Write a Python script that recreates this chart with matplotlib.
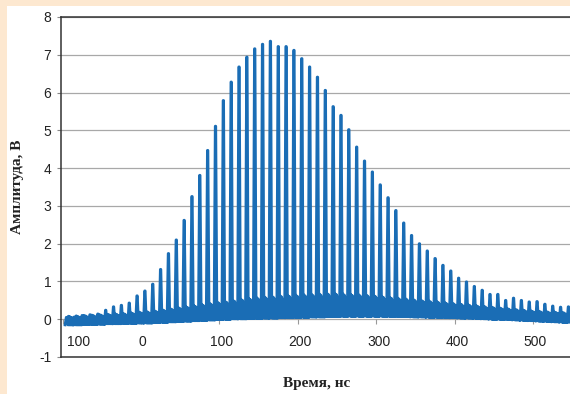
import numpy as np
import matplotlib
matplotlib.use("Agg")
import matplotlib.pyplot as plt
from matplotlib.patches import Rectangle

plt.rcParams['axes.unicode_minus'] = False

# pulse times (ns) and peak amplitudes (V)
pulse_t = [-95, -85, -75, -65, -55, -45, -35, -25, -15, -5,
           5, 15, 25, 35, 45, 55, 65, 75, 85, 95,
           105, 115, 125, 135, 145, 155, 165, 175, 185, 195,
           205, 215, 225, 235, 245, 255, 265, 275, 285, 295,
           305, 315, 325, 335, 345, 355, 365, 375, 385, 395,
           405, 415, 425, 435, 445, 455, 465, 475, 485, 495,
           505, 515, 525, 535, 545]
pulse_amp = [0.05, 0.06, 0.10, 0.12, 0.14, 0.24, 0.33, 0.37, 0.43, 0.62,
             0.75, 0.93, 1.32, 1.74, 2.10, 2.62, 3.25, 3.81, 4.47, 5.11,
             5.79, 6.28, 6.68, 6.94, 7.16, 7.28, 7.36, 7.22, 7.22, 7.12,
             6.90, 6.68, 6.41, 6.06, 5.63, 5.40, 5.02, 4.56, 4.19, 3.90,
             3.56, 3.22, 2.88, 2.55, 2.22, 2.00, 1.81, 1.61, 1.43, 1.28,
             1.09, 0.99, 0.87, 0.77, 0.66, 0.66, 0.50, 0.56, 0.50, 0.46,
             0.47, 0.40, 0.35, 0.32, 0.33]
# top / bottom of the dense ringing band between pulses
band_top = [0.08, 0.09, 0.10, 0.11, 0.12, 0.13, 0.14, 0.15, 0.17, 0.19,
            0.20, 0.22, 0.25, 0.28, 0.31, 0.33, 0.36, 0.39, 0.42, 0.45,
            0.47, 0.50, 0.53, 0.55, 0.57, 0.59, 0.60, 0.62, 0.63, 0.64,
            0.65, 0.66, 0.67, 0.68, 0.68, 0.67, 0.66, 0.65, 0.64, 0.62,
            0.60, 0.58, 0.56, 0.54, 0.52, 0.50, 0.48, 0.46, 0.44, 0.42,
            0.40, 0.38, 0.36, 0.34, 0.32, 0.30, 0.28, 0.26, 0.24, 0.22,
            0.21, 0.20, 0.19, 0.18, 0.17]
band_bot = [-0.15, -0.15, -0.14, -0.14, -0.13, -0.12, -0.12, -0.11, -0.11, -0.10,
            -0.10, -0.09, -0.08, -0.07, -0.06, -0.05, -0.04, -0.03, -0.02, -0.01,
            0.00, 0.01, 0.01, 0.02, 0.02, 0.03, 0.03, 0.04, 0.04, 0.05,
            0.05, 0.06, 0.06, 0.07, 0.07, 0.08, 0.08, 0.08, 0.08, 0.08,
            0.08, 0.07, 0.07, 0.07, 0.06, 0.06, 0.05, 0.05, 0.04, 0.04,
            0.03, 0.03, 0.02, 0.01, 0.00, 0.00, -0.01, -0.02, -0.03, -0.04,
            -0.05, -0.06, -0.07, -0.08, -0.08]

x_ticks = [-100, 0, 100, 200, 300, 400, 500]
x_labels = ['100', '0', '100', '200', '300', '400', '500']
y_ticks = [-1, 0, 1, 2, 3, 4, 5, 6, 7, 8]

blue = '#1a6db5'

# build the trace: sharp pulse followed by ringing inside the band
decay = [1.0, 0.8, 0.95, 0.65, 0.85, 0.6, 0.8, 0.55]
tx, ty = [], []
for t, a, hi, lo in zip(pulse_t, pulse_amp, band_top, band_bot):
    tx += [t - 1.8, t - 0.3, t + 0.3, t + 1.8]
    ty += [lo, a, a, lo]
    for j, d in enumerate(decay):
        tx += [t + 2.4 + j * 0.95, t + 2.9 + j * 0.95]
        ty += [lo + (hi - lo) * d, lo]

fig = plt.figure(figsize=(5.7, 3.94), dpi=100)
fig.patch.set_facecolor('#fde8d0')
fig.patches.append(Rectangle((7 / 570, 0), 1, 388 / 394, transform=fig.transFigure,
                             facecolor='white', edgecolor='none', zorder=-5))

ax = fig.add_axes([61 / 570, 37 / 394, 1 - 61 / 570, 340 / 394])
ax.set_zorder(2)
ax.set_facecolor('white')
ax.set_xlim(-102, 547)
ax.set_ylim(-1, 8)

ax.set_yticks(y_ticks)
ax.yaxis.grid(True, color='#a8a8a8', linewidth=0.9)
ax.set_axisbelow(True)
ax.tick_params(axis='y', length=3, width=0.8, color='#888888', labelsize=10,
               labelcolor='#222222', pad=4)
ax.set_xticks([])
for lab in ax.get_yticklabels():
    lab.set_fontfamily('Liberation Sans')

for s in ['left', 'top', 'bottom']:
    ax.spines[s].set_color('#333333')
    ax.spines[s].set_linewidth(1.1)
ax.spines['right'].set_visible(False)

ax.plot(tx, ty, color=blue, linewidth=2.0, solid_joinstyle='round', zorder=3)

# small ticks on the zero line and labels inside the plot
ax.vlines(x_ticks, -0.12, 0, color='#999999', linewidth=0.8, zorder=2)
label_pos = [-80, 2, 103, 203, 303, 403, 503]
for xp, lab in zip(label_pos, x_labels):
    ax.text(xp, -0.6, lab, ha='center', va='center', fontsize=10,
            family='Liberation Sans', color='#222222')

fig.text(18 / 570, 1 - 187 / 394, 'Амплитуда, В', rotation=90, ha='center',
         va='center', fontsize=11, fontweight='bold', family='Liberation Serif',
         color='#222222')
fig.text(317 / 570, 1 - 383 / 394, 'Время, нс', ha='center', va='center',
         fontsize=11, fontweight='bold', family='Liberation Serif', color='#222222')

fig.savefig('out.png', dpi=100, facecolor=fig.get_facecolor())
